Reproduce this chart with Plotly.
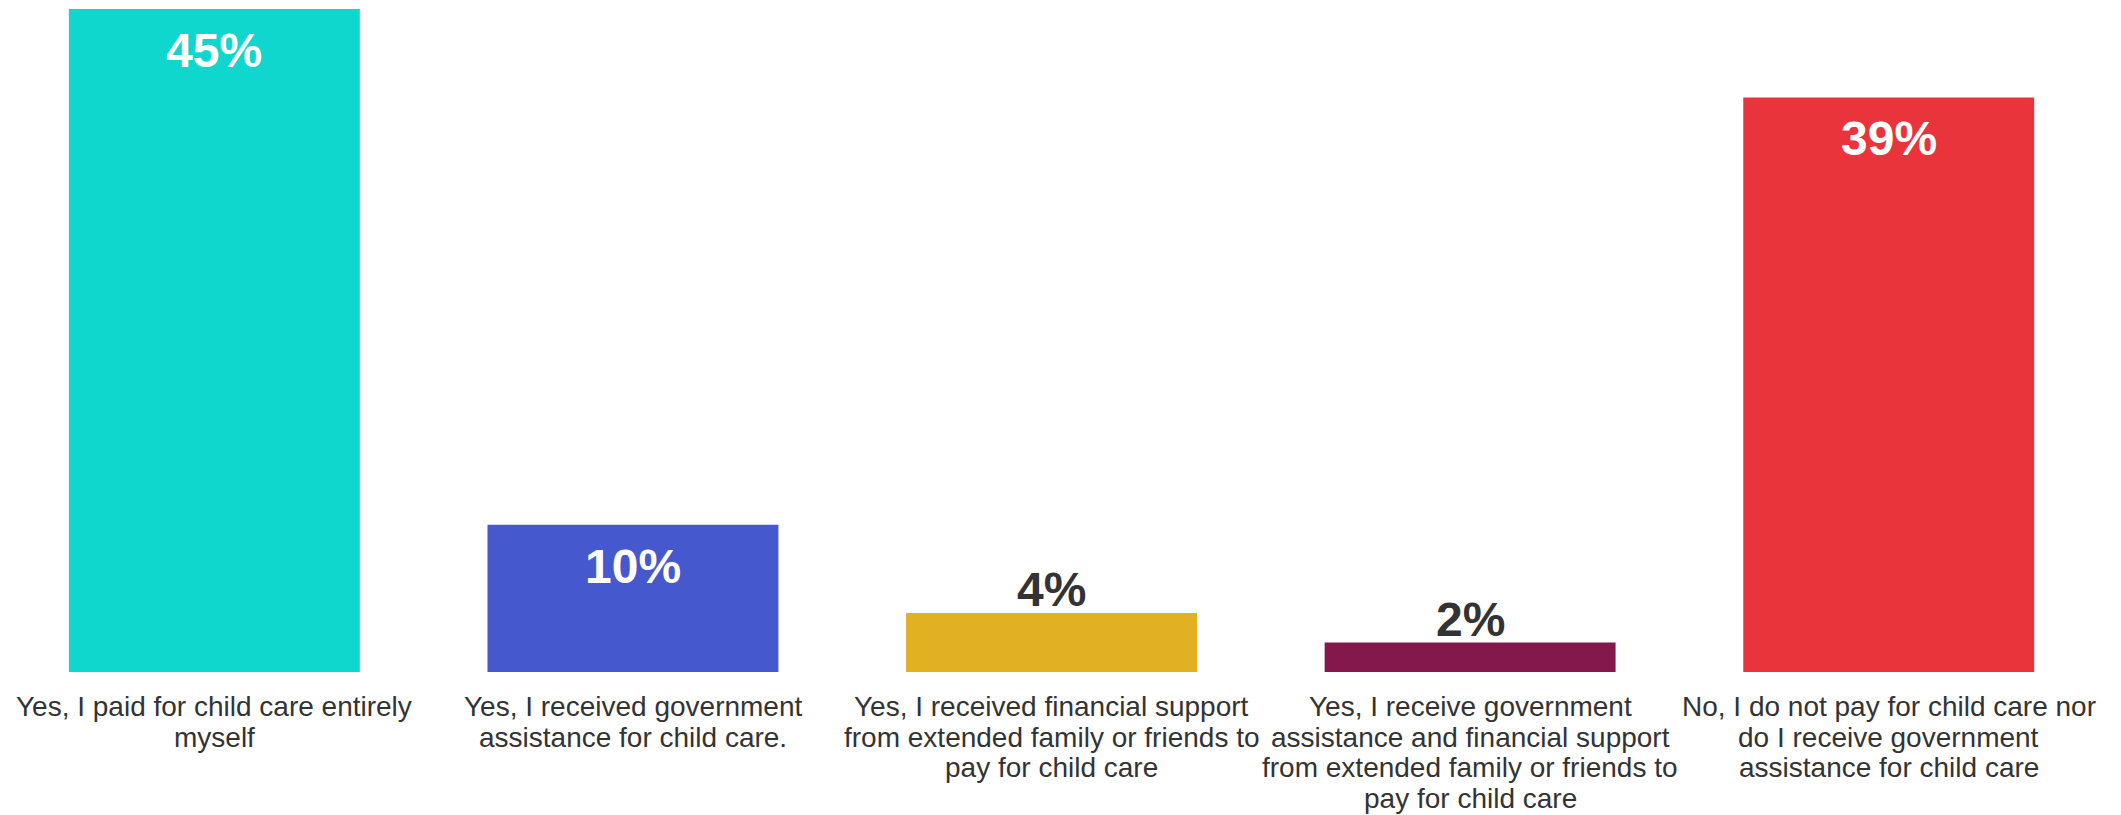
import plotly.graph_objects as go

categories = [
    "Yes, I paid for child care entirely<br>myself",
    "Yes, I received government<br>assistance for child care.",
    "Yes, I received financial support<br>from extended family or friends to<br>pay for child care",
    "Yes, I receive government<br>assistance and financial support<br>from extended family or friends to<br>pay for child care",
    "No, I do not pay for child care nor<br>do I receive government<br>assistance for child care",
]
values = [45, 10, 4, 2, 39]
labels = ["45%", "10%", "4%", "2%", "39%"]
colors = ["#10D7CD", "#4658CD", "#E1B023", "#84184C", "#E8343A"]
label_inside = [True, True, False, False, True]

FONT = "Arial, Liberation Sans, sans-serif"

fig = go.Figure(
    go.Bar(
        x=categories,
        y=values,
        marker=dict(color=colors, line=dict(width=0)),
        hoverinfo="skip",
    )
)

# value labels anchored to each bar's top
for cat, val, lab, inside in zip(categories, values, labels, label_inside):
    fig.add_annotation(
        x=cat, y=val, xref="x", yref="y",
        text=lab, showarrow=False,
        yanchor="top" if inside else "bottom",
        yshift=-13 if inside else -5,
        font=dict(family=FONT, size=48, color="#FFFFFF" if inside else "#333333", weight="bold"),
    )

# category labels, one annotation per line for tighter line spacing
LINE_STEP = 30.7
for cat in categories:
    for i, line in enumerate(cat.split("<br>")):
        fig.add_annotation(
            x=cat, y=0, xref="x", yref="y",
            text=line, showarrow=False,
            yanchor="top", yshift=-(17 + i * LINE_STEP),
            font=dict(family=FONT, size=28, color="#333333"),
        )

fig.update_layout(
    width=2113,
    height=807,
    margin=dict(l=0, r=23, t=1, b=143),
    paper_bgcolor="white",
    plot_bgcolor="white",
    bargap=0.305,
    showlegend=False,
    xaxis=dict(
        showgrid=False,
        showline=False,
        zeroline=False,
        showticklabels=False,
        range=[-0.493, 4.5],
    ),
    yaxis=dict(visible=False, range=[0, 45], fixedrange=True),
)

fig.write_html("out.html")
